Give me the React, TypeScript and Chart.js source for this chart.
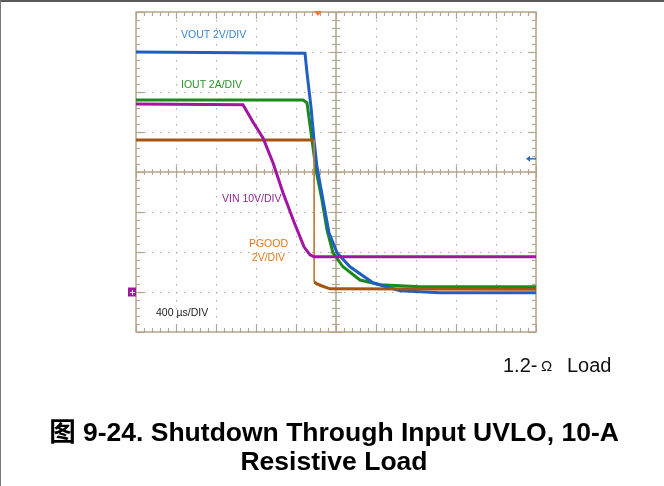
import React, { useEffect, useRef } from "react";
import { Chart, registerables } from "chart.js";

Chart.register(...registerables);

// Time axis in µs (400 µs/DIV, 10 divisions); vertical axis in screen divisions (8 divisions)
const TIME_MAX = 4000;
const TIME_STEP = 400;
const DIV_MAX = 8;

// VOUT 2V/DIV trace (time µs, position in divisions)
const VOUT_T = [0, 1690, 1710, 1750, 1780, 1810, 1870, 1930, 2010, 2140, 2370, 2640, 3040, 4000];
const VOUT_V = [7.0, 6.97, 6.48, 5.63, 4.8, 4.13, 3.3, 2.48, 1.98, 1.63, 1.23, 1.03, 0.98, 0.98];

// IOUT 2A/DIV trace
const IOUT_T = [0, 1670, 1710, 1760, 1800, 1860, 1910, 1970, 2070, 2240, 2440, 2840, 4000];
const IOUT_V = [5.8, 5.8, 5.73, 4.8, 4.05, 3.3, 2.55, 1.98, 1.63, 1.3, 1.18, 1.13, 1.13];

// VIN 10V/DIV trace
const VIN_T = [0, 1070, 1170, 1270, 1370, 1470, 1580, 1680, 1740, 1780, 4000];
const VIN_V = [5.7, 5.68, 5.25, 4.85, 4.23, 3.48, 2.75, 2.13, 1.93, 1.88, 1.88];

// PGOOD 2V/DIV trace
const PGOOD_T = [0, 1780, 1782, 1810, 1860, 1940, 4000];
const PGOOD_V = [4.8, 4.8, 1.25, 1.2, 1.15, 1.08, 1.07];

// Markers
const TRIGGER_TIME = 1820;
const TRIGGER_LEVEL = 4.33;
const VIN_GROUND = 1.0;

const GRID_DOT = "#b4aa94";
const AXIS = "#b2a68c";

const FONT = '"Liberation Sans", Arial, "Noto Sans CJK SC", sans-serif';

const pts = (t: number[], v: number[]) => t.map((x, i) => ({ x, y: v[i] }));

const scopePlugin = {
  id: "scopeGrid",
  beforeDatasetsDraw(chart: any) {
    const { ctx, chartArea, scales } = chart;
    const { left, top, right, bottom } = chartArea;
    const x = scales.x;
    const y = scales.y;
    const line = (x1: number, y1: number, x2: number, y2: number) => {
      ctx.beginPath();
      ctx.moveTo(x1, y1);
      ctx.lineTo(x2, y2);
      ctx.stroke();
    };
    ctx.save();
    ctx.strokeStyle = AXIS;
    ctx.lineWidth = 1.5;
    ctx.strokeRect(left, top, right - left, bottom - top);
    const cx = Math.round(x.getPixelForValue(TIME_MAX / 2));
    const cy = Math.round(y.getPixelForValue(DIV_MAX / 2));
    line(cx, top, cx, bottom);
    line(left, cy, right, cy);
    ctx.lineWidth = 1.2;
    const xMinor = TIME_STEP / 5;
    for (let t = 0; t <= TIME_MAX + 0.1; t += xMinor) {
      const px = Math.round(x.getPixelForValue(t)) + 0.5;
      const major = Math.abs(t % TIME_STEP) < 0.1;
      const c = major ? 6 : 3;
      const e = major ? 7 : 4;
      line(px, cy - c, px, cy + c);
      line(px, top, px, top + e);
      line(px, bottom, px, bottom - e);
    }
    for (let k = 0; k <= DIV_MAX * 5; k++) {
      const v = k / 5;
      const py = Math.round(y.getPixelForValue(v)) + 0.5;
      const major = k % 5 === 0;
      const c = major ? 6 : 4;
      const e = major ? 8 : 4;
      line(cx - c, py, cx + c, py);
      line(left, py, left + e, py);
      line(right, py, right - e, py);
    }
    ctx.restore();
  },
  afterDatasetsDraw(chart: any) {
    const { ctx, chartArea, scales } = chart;
    const { left, top, right } = chartArea;
    const x = scales.x;
    const y = scales.y;
    ctx.save();
    // trigger position marker
    const tx = x.getPixelForValue(TRIGGER_TIME);
    ctx.fillStyle = "#f07a32";
    ctx.beginPath();
    ctx.moveTo(tx - 4, top - 1);
    ctx.lineTo(tx + 4, top - 1);
    ctx.lineTo(tx, top + 4);
    ctx.closePath();
    ctx.fill();
    // trigger level arrow
    const ty = y.getPixelForValue(TRIGGER_LEVEL);
    ctx.strokeStyle = "#2a66c4";
    ctx.fillStyle = "#2a66c4";
    ctx.lineWidth = 1.5;
    ctx.beginPath();
    ctx.moveTo(right - 7, ty);
    ctx.lineTo(right, ty);
    ctx.stroke();
    ctx.beginPath();
    ctx.moveTo(right - 10, ty);
    ctx.lineTo(right - 6, ty - 3);
    ctx.lineTo(right - 6, ty + 3);
    ctx.closePath();
    ctx.fill();
    // VIN ground marker
    const gy = y.getPixelForValue(VIN_GROUND);
    ctx.fillStyle = "#a314a3";
    ctx.fillRect(left - 8, gy - 4.5, 8, 9);
    ctx.strokeStyle = "#ffffff";
    ctx.lineWidth = 1;
    ctx.beginPath();
    ctx.moveTo(left - 6, gy + 0.5);
    ctx.lineTo(left - 1, gy + 0.5);
    ctx.moveTo(left - 3.5, gy - 2);
    ctx.lineTo(left - 3.5, gy + 3);
    ctx.stroke();
    ctx.restore();
  },
};

function ScopeChart() {
  const ref = useRef<HTMLCanvasElement | null>(null);
  useEffect(() => {
    if (!ref.current) return;
    const chart = new Chart(ref.current, {
      type: "line",
      data: {
        datasets: [
          {
            label: "VIN 10V/DIV",
            data: pts(VIN_T, VIN_V),
            borderColor: "#a314a3",
            borderWidth: 3,
          },
          {
            label: "PGOOD 2V/DIV",
            data: pts(PGOOD_T, PGOOD_V),
            borderColor: "#a65412",
            borderWidth: 3,
            segment: {
              borderWidth: (c: any) => (c.p0DataIndex === 1 ? 1 : undefined),
              borderColor: (c: any) => (c.p0DataIndex === 1 ? "#c07a3a" : undefined),
            },
          },
          {
            label: "VOUT 2V/DIV",
            data: pts(VOUT_T, VOUT_V),
            borderColor: "#1f5fc4",
            borderWidth: 3,
          },
          {
            label: "IOUT 2A/DIV",
            data: pts(IOUT_T, IOUT_V),
            borderColor: "#1a8a1a",
            borderWidth: 3,
          },
        ],
      } as any,
      options: {
        responsive: false,
        animation: false,
        events: [],
        layout: { padding: { left: 136, top: 12, right: 128, bottom: 154 } },
        plugins: { legend: { display: false }, tooltip: { enabled: false } },
        elements: { point: { radius: 0 }, line: { tension: 0 } },
        scales: {
          x: {
            type: "linear",
            min: 0,
            max: TIME_MAX,
            ticks: { display: false, stepSize: TIME_STEP },
            grid: { color: GRID_DOT, lineWidth: 1, drawTicks: false },
            border: { display: false, dash: [1.5, 6.5] },
          },
          y: {
            type: "linear",
            min: 0,
            max: DIV_MAX,
            ticks: { display: false, stepSize: 1 },
            grid: { color: GRID_DOT, lineWidth: 1, drawTicks: false },
            border: { display: false, dash: [1.5, 6.5] },
          },
        },
      } as any,
      plugins: [scopePlugin],
    });
    return () => chart.destroy();
  }, []);
  return (
    <canvas
      ref={ref}
      width={664}
      height={486}
      style={{ position: "absolute", left: 0, top: 0, width: 664, height: 486 }}
    />
  );
}

const abs = (
  left: number,
  top: number,
  size: number,
  color: string,
  extra: React.CSSProperties = {}
): React.CSSProperties => ({
  position: "absolute",
  left,
  top,
  fontSize: size,
  lineHeight: `${size}px`,
  color,
  fontFamily: FONT,
  whiteSpace: "pre",
  ...extra,
});

export default function App() {
  return (
    <div
      style={{
        position: "absolute",
        left: 0,
        top: 0,
        width: 664,
        height: 486,
        background: "#ffffff",
        overflow: "hidden",
      }}
    >
      <div style={{ position: "absolute", left: 0, top: 0, width: 664, height: 1.5, background: "#5a5a5a" }} />
      <div style={{ position: "absolute", left: 0, top: 0, width: 1, height: 486, background: "#777777" }} />
      <ScopeChart />
      <div style={abs(181, 28.5, 10.5, "#3a86d0")}>VOUT 2V/DIV</div>
      <div style={abs(181, 78.5, 10.5, "#2a922a")}>IOUT 2A/DIV</div>
      <div style={abs(222, 193, 10.5, "#8e2a8e")}>VIN 10V/DIV</div>
      <div style={abs(218, 238, 10.5, "#e0781e", { width: 101, textAlign: "center" })}>PGOOD</div>
      <div style={abs(218, 252, 10.5, "#e0781e", { width: 101, textAlign: "center" })}>2V/DIV</div>
      <div style={abs(156, 307, 10.5, "#222222")}>400 µs/DIV</div>
      <div style={abs(503, 355, 20, "#111111")}>1.2-</div>
      <div style={abs(541, 358, 15, "#111111")}>Ω</div>
      <div style={abs(567, 355, 20, "#111111")}>Load</div>
      <div style={abs(0, 419, 26.5, "#000000", { width: 668, textAlign: "center", fontWeight: "bold" })}>
        图 9-24. Shutdown Through Input UVLO, 10-A
      </div>
      <div style={abs(0, 448, 26.5, "#000000", { width: 668, textAlign: "center", fontWeight: "bold" })}>
        Resistive Load
      </div>
    </div>
  );
}
